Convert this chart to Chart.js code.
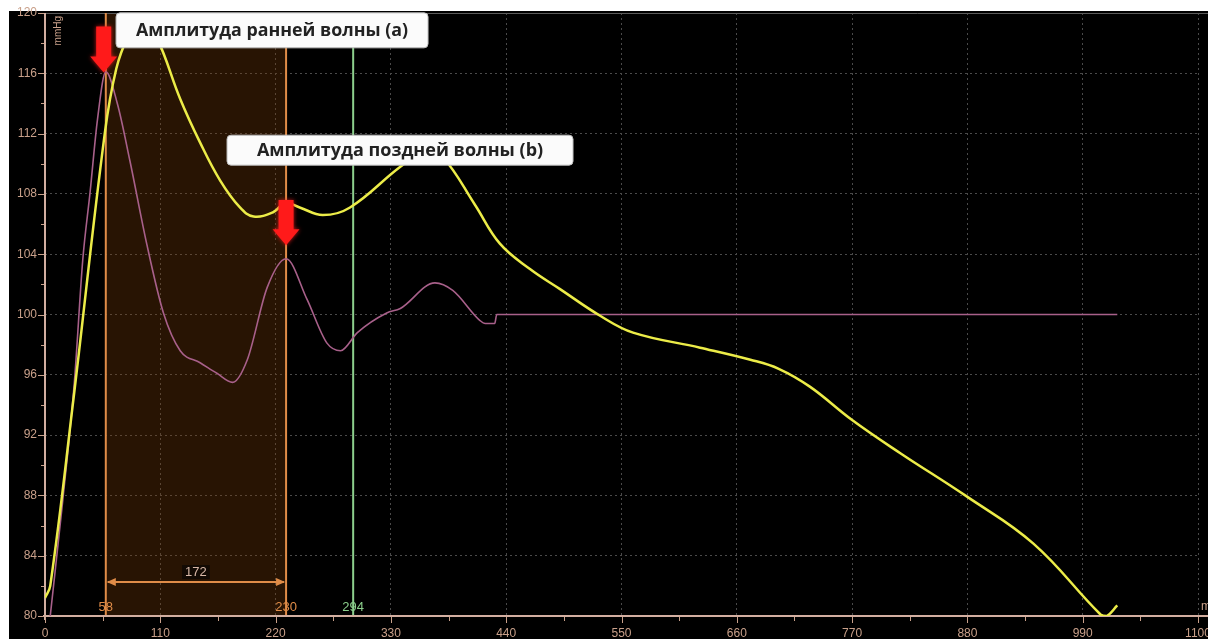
<!DOCTYPE html>
<html>
<head>
<meta charset="utf-8">
<script src="https://cdn.jsdelivr.net/npm/chart.js@4.4.1/dist/chart.umd.min.js"></script>
<style>
  html, body { margin: 0; padding: 0; background: #fff; }
  #wrap { width: 1208px; height: 639px; }
</style>
</head>
<body>
<div id="wrap"><canvas id="pulseChart" width="1208" height="639"></canvas></div>
<script>
// pressure curve (yellow), ms / mmHg
const timeMain = [0, 5, 27, 57, 68, 79, 92, 107, 129, 148, 167, 186, 199, 218, 229, 243, 265, 291, 339, 364, 380, 410, 434, 463, 491, 530, 561, 625, 673, 700, 730, 770, 816, 880, 943, 1007, 1013, 1023];
const pressMain = [81.2, 82.0, 94.3, 112.0, 116.3, 118.4, 119.7, 118.3, 114.3, 111.4, 108.9, 107.1, 106.5, 106.8, 107.4, 107.1, 106.6, 107.1, 109.8, 110.9, 110.4, 107.3, 104.7, 103.0, 101.7, 99.9, 98.8, 97.8, 97.0, 96.4, 95.2, 93.0, 90.8, 87.9, 84.8, 80.1, 80.0, 80.7];

// derived wave (mauve)
const timeWave = [5, 17, 28, 36, 43, 50, 58, 69, 81, 97, 113, 129, 148, 164, 179, 193, 212, 230, 250, 269, 282, 298, 326, 339, 372, 389, 415, 420, 429, 431, 433, 1023];
const pressWave = [80.0, 87.7, 95.5, 103.6, 108.1, 112.9, 116.1, 114.0, 110.2, 104.7, 100.1, 97.6, 96.8, 96.1, 95.5, 97.0, 101.8, 103.7, 101.0, 98.1, 97.6, 98.8, 100.1, 100.4, 102.1, 101.6, 99.6, 99.4, 99.4, 100.0, 100.0, 100.0];

const markerTimes = [58, 230, 294];
const markerColors = ['#e08c48', '#e08c48', '#8ccf8c'];
const intervalText = '172';

const noteTexts = ['Амплитуда ранней волны (а)', 'Амплитуда поздней волны (b)'];
const noteX = [216.6, 338.7];
const noteY = [118.85, 110.9];
const arrowX = [56, 230];
const arrowFrom = [119.1, 107.6];
const arrowTo = [116.05, 104.6];

const tickColor = '#c9a08a';

function toPts(xs, ys) {
  return xs.map((x, i) => ({ x: x, y: ys[i] }));
}

function redArrow(ctx, x, yTop, yTip) {
  const shaft = 7.5, head = 13.5, headLen = 16;
  ctx.save();
  ctx.fillStyle = '#ff1a1a';
  ctx.shadowColor = 'rgba(255,30,30,0.8)';
  ctx.shadowBlur = 4;
  ctx.beginPath();
  ctx.moveTo(x - shaft, yTop);
  ctx.lineTo(x + shaft, yTop);
  ctx.lineTo(x + shaft, yTip - headLen);
  ctx.lineTo(x + head, yTip - headLen);
  ctx.lineTo(x, yTip);
  ctx.lineTo(x - head, yTip - headLen);
  ctx.lineTo(x - shaft, yTip - headLen);
  ctx.closePath();
  ctx.fill();
  ctx.restore();
}

function noteBox(ctx, cx, cy, w, h, text, textW) {
  ctx.save();
  ctx.fillStyle = '#fbfbfb';
  ctx.strokeStyle = '#bdbdbd';
  ctx.lineWidth = 1;
  ctx.beginPath();
  ctx.roundRect(cx - w / 2, cy - h / 2, w, h, 4);
  ctx.fill();
  ctx.stroke();
  ctx.fillStyle = '#222';
  ctx.font = 'bold 18px "Open Sans", sans-serif';
  ctx.textAlign = 'center';
  ctx.textBaseline = 'middle';
  ctx.fillText(text, cx, cy + 1, textW);
  ctx.restore();
}

const scopePlugin = {
  id: 'scope',
  beforeDraw(chart) {
    const ctx = chart.ctx;
    ctx.save();
    ctx.fillStyle = '#ffffff';
    ctx.fillRect(0, 0, chart.width, chart.height);
    ctx.fillStyle = '#000000';
    ctx.fillRect(9, 11, chart.width - 9, chart.height - 11);
    ctx.restore();
  },
  beforeDatasetsDraw(chart) {
    const ctx = chart.ctx;
    const a = chart.chartArea;
    const xs = chart.scales.x, ys = chart.scales.y;
    const x1 = xs.getPixelForValue(markerTimes[0]);
    const x2 = xs.getPixelForValue(markerTimes[1]);
    ctx.save();
    // shaded interval
    ctx.fillStyle = 'rgba(125,62,10,0.32)';
    ctx.fillRect(x1, a.top, x2 - x1, a.bottom - a.top);

    // top border
    ctx.strokeStyle = '#5a5a5a';
    ctx.lineWidth = 1;
    ctx.beginPath();
    ctx.moveTo(a.left, a.top + 0.5);
    ctx.lineTo(chart.width, a.top + 0.5);
    ctx.stroke();

    // marker lines
    markerTimes.forEach((t, i) => {
      const px = xs.getPixelForValue(t);
      ctx.strokeStyle = markerColors[i];
      ctx.lineWidth = 2;
      ctx.beginPath();
      ctx.moveTo(px, a.top);
      ctx.lineTo(px, a.bottom);
      ctx.stroke();
      ctx.fillStyle = markerColors[i];
      ctx.font = '13px "Liberation Sans", sans-serif';
      ctx.textAlign = 'center';
      ctx.textBaseline = 'bottom';
      ctx.fillText(String(t), px, a.bottom - 2);
    });

    // interval arrow
    const ay = ys.getPixelForValue(82.25);
    ctx.strokeStyle = '#e08c48';
    ctx.fillStyle = '#e08c48';
    ctx.lineWidth = 2;
    ctx.beginPath();
    ctx.moveTo(x1 + 2, ay);
    ctx.lineTo(x2 - 2, ay);
    ctx.stroke();
    [[x1 + 1, 1], [x2 - 1, -1]].forEach(([px, dir]) => {
      ctx.beginPath();
      ctx.moveTo(px, ay);
      ctx.lineTo(px + dir * 9, ay - 4);
      ctx.lineTo(px + dir * 9, ay + 4);
      ctx.closePath();
      ctx.fill();
    });
    const mid = xs.getPixelForValue((markerTimes[0] + markerTimes[1]) / 2);
    ctx.font = '13px "Liberation Sans", sans-serif';
    const tw = ctx.measureText(intervalText).width;
    ctx.fillStyle = '#120a04';
    ctx.fillRect(mid - tw / 2 - 3, ay - 17, tw + 6, 14);
    ctx.fillStyle = '#d8b8a8';
    ctx.textAlign = 'center';
    ctx.textBaseline = 'middle';
    ctx.fillText(intervalText, mid, ay - 10);

    // axes
    ctx.strokeStyle = '#d2aea0';
    ctx.lineWidth = 2;
    ctx.beginPath();
    ctx.moveTo(a.left, a.top);
    ctx.lineTo(a.left, a.bottom + 4);
    ctx.moveTo(a.left - 2, a.bottom);
    ctx.lineTo(chart.width, a.bottom);
    ctx.stroke();
    ctx.lineWidth = 1;
    ctx.strokeStyle = '#c9a08a';
    ctx.beginPath();
    for (let v = 80; v <= 120; v += 2) {
      const py = Math.round(ys.getPixelForValue(v)) + 0.5;
      const len = v % 4 === 0 ? 6 : 3;
      ctx.moveTo(a.left - 1 - len, py);
      ctx.lineTo(a.left - 1, py);
    }
    for (let t = 0; t <= 1100; t += 55) {
      const px = Math.round(xs.getPixelForValue(t)) + 0.5;
      const len = t % 110 === 0 ? 6 : 4;
      ctx.moveTo(px, a.bottom + 1);
      ctx.lineTo(px, a.bottom + 1 + len);
    }
    ctx.stroke();

    // unit labels
    ctx.fillStyle = tickColor;
    ctx.font = '10px "Liberation Sans", sans-serif';
    ctx.save();
    ctx.translate(a.left + 13, a.top + 3);
    ctx.rotate(-Math.PI / 2);
    ctx.textAlign = 'right';
    ctx.textBaseline = 'middle';
    ctx.fillText('mmHg', 0, 0);
    ctx.restore();
    ctx.font = '12px "Liberation Sans", sans-serif';
    ctx.textAlign = 'left';
    ctx.textBaseline = 'bottom';
    ctx.fillText('ms', a.right + 3, a.bottom - 3);
    ctx.restore();
  },
  afterDatasetsDraw(chart) {
    const ctx = chart.ctx;
    const xs = chart.scales.x, ys = chart.scales.y;
    arrowX.forEach((t, i) => {
      redArrow(ctx, xs.getPixelForValue(t), ys.getPixelForValue(arrowFrom[i]), ys.getPixelForValue(arrowTo[i]));
    });
    noteBox(ctx, xs.getPixelForValue(noteX[0]), ys.getPixelForValue(noteY[0]), 312, 35, noteTexts[0], 272);
    noteBox(ctx, xs.getPixelForValue(noteX[1]), ys.getPixelForValue(noteY[1]), 346, 30, noteTexts[1], 288);
  }
};

const gridOpts = {
  color: '#4a4a4a',
  lineWidth: 1,
  drawTicks: false
};

new Chart(document.getElementById('pulseChart'), {
  type: 'line',
  data: {
    datasets: [
      {
        data: toPts(timeMain, pressMain),
        borderColor: '#ecec48',
        borderWidth: 2.5,
        pointRadius: 0,
        tension: 0.4,
        fill: false
      },
      {
        data: toPts(timeWave, pressWave),
        borderColor: '#a8608a',
        borderWidth: 1.6,
        pointRadius: 0,
        cubicInterpolationMode: 'monotone',
        fill: false
      }
    ]
  },
  options: {
    responsive: false,
    animation: false,
    layout: { padding: { left: 9, top: 13, right: 10, bottom: 0 } },
    plugins: { legend: { display: false }, tooltip: { enabled: false } },
    scales: {
      x: {
        type: 'linear',
        min: 0,
        max: 1100,
        ticks: {
          stepSize: 110, color: tickColor, font: { family: 'Liberation Sans', size: 12 }, padding: 10, maxRotation: 0,
          callback: v => String(v)
        },
        grid: gridOpts,
        border: { display: false, dash: [2, 3] },
        afterFit(scale) { scale.height = 23; scale.paddingLeft = 0; scale.paddingRight = 0; }
      },
      y: {
        min: 80,
        max: 120,
        ticks: { stepSize: 4, color: tickColor, font: { family: 'Liberation Sans', size: 12 }, padding: 8 },
        grid: gridOpts,
        border: { display: false, dash: [2, 3] },
        afterFit(scale) { scale.width = 36; scale.paddingTop = 0; scale.paddingBottom = 0; }
      }
    }
  },
  plugins: [scopePlugin]
});
</script>
</body>
</html>
